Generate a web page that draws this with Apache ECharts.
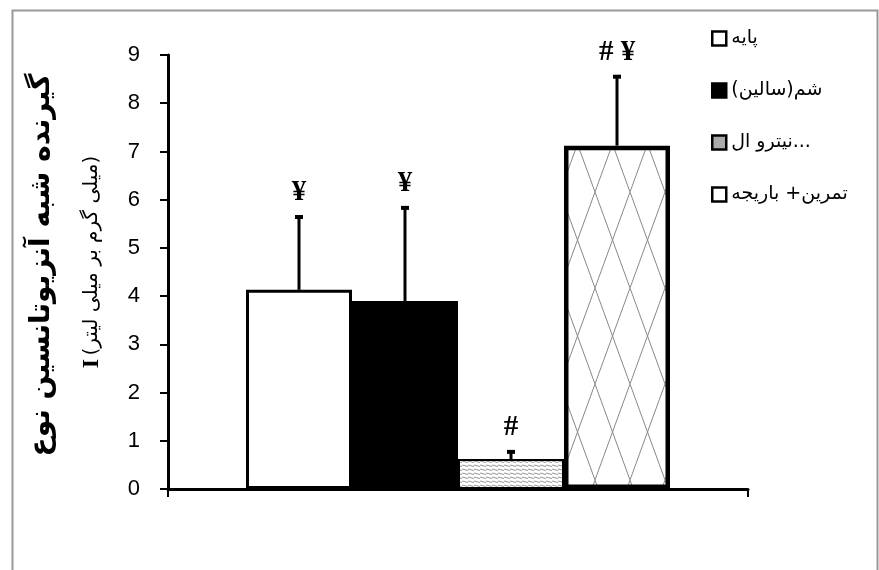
<!DOCTYPE html>
<html>
<head>
<meta charset="utf-8">
<script src="https://cdn.jsdelivr.net/npm/echarts@6/dist/echarts.min.js"></script>
<style>
  html, body { margin: 0; padding: 0; background: #fff; }
  #main { width: 879px; height: 570px; }
</style>
</head>
<body>
<div id="main"></div>
<script>
// داده ها
var groups = ['پایه', 'شم(سالین)', 'نیترو ال...', 'تمرین+ باریجه'];
var means = [4.13, 3.9, 0.62, 7.12];
var errTops = [5.64, 5.83, 0.77, 8.55];
var marks = ['¥', '¥', '#', '# ¥'];
var yTicks = [0, 9, 1];

// الگوی خط های افقی برای ستون سوم
function stripePattern() {
    var c = document.createElement('canvas');
    c.width = 6; c.height = 4;
    var ctx = c.getContext('2d');
    ctx.fillStyle = '#fff';
    ctx.fillRect(0, 0, 6, 4);
    ctx.strokeStyle = '#999';
    ctx.lineWidth = 1.2;
    ctx.beginPath();
    ctx.moveTo(0, 1); ctx.lineTo(6, 2.5);
    ctx.stroke();
    return c;
}
// الگوی لوزی برای ستون چهارم
function diamondPattern() {
    var w = 35, h = 96;
    var c = document.createElement('canvas');
    c.width = w; c.height = h;
    var ctx = c.getContext('2d');
    ctx.fillStyle = '#fff';
    ctx.fillRect(0, 0, w, h);
    ctx.strokeStyle = '#888';
    ctx.lineWidth = 1;
    ctx.beginPath();
    ctx.moveTo(0, 0); ctx.lineTo(w, h);
    ctx.moveTo(w, 0); ctx.lineTo(0, h);
    ctx.stroke();
    return c;
}

var barW = 106;
var fills = [
    '#fff',
    '#000',
    { image: stripePattern(), repeat: 'repeat' },
    { image: diamondPattern(), repeat: 'repeat' }
];
var borders = [3, 2, 2, 4.5];
var legendFills = ['#fff', '#000', '#aaa', '#fff'];

var myChart = echarts.init(document.getElementById('main'));

var series = [];
for (var i = 0; i < groups.length; i++) {
    series.push({
        name: groups[i],
        type: 'bar',
        barWidth: barW,
        barGap: '0%',
        itemStyle: { color: fills[i], borderColor: '#000', borderWidth: borders[i] },
        data: [means[i]],
        z: 2
    });
}

var errData = [];
for (var j = 0; j < means.length; j++) {
    errData.push([0, means[j], errTops[j]]);
}
series.push({
    type: 'custom',
    z: 5,
    encode: { x: 0, y: 2 },
    data: errData,
    renderItem: function (params, api) {
        var k = params.dataIndex;
        var off = (k - 1.5) * barW;
        var top = api.coord([0, api.value(2)]);
        var bot = api.coord([0, api.value(1)]);
        var x = top[0] + off;
        return {
            type: 'group',
            children: [
                { type: 'line', shape: { x1: x, y1: bot[1], x2: x, y2: top[1] },
                  style: { stroke: '#000', lineWidth: 3 } },
                { type: 'line', shape: { x1: x - 4, y1: top[1], x2: x + 4, y2: top[1] },
                  style: { stroke: '#000', lineWidth: 4 } },
                { type: 'text', x: x, y: top[1] - 10,
                  style: { text: marks[k], fontFamily: 'Liberation Serif', fontWeight: 'bold',
                           fontSize: 29, fill: '#000', align: 'center', verticalAlign: 'bottom' } }
            ]
        };
    }
});

option = {
    backgroundColor: '#fff',
    animation: false,
    legend: {
        orient: 'vertical',
        left: 706,
        top: 24,
        itemWidth: 14,
        itemHeight: 14,
        itemGap: 33,
        itemTextGap: 6,
        icon: 'rect',
        textStyle: { fontFamily: 'DejaVu Sans', fontSize: 19, color: '#000' },
        data: groups.map(function (g, i) {
            return { name: g, itemStyle: { color: legendFills[i], borderColor: '#000', borderWidth: 2.5 } };
        })
    },
    grid: { left: 168, right: 131, top: 55, bottom: 81 },
    xAxis: {
        type: 'category',
        data: [''],
        axisLine: { lineStyle: { color: '#000', width: 3 } },
        axisTick: { show: true, length: 8, lineStyle: { color: '#000', width: 2 } },
        axisLabel: { show: false }
    },
    yAxis: {
        type: 'value',
        min: yTicks[0],
        max: yTicks[1],
        interval: yTicks[2],
        splitLine: { show: false },
        axisLine: { show: true, lineStyle: { color: '#000', width: 3 } },
        axisTick: { show: true, length: 8, lineStyle: { color: '#000', width: 2 } },
        axisLabel: { margin: 28, fontFamily: 'Liberation Sans', fontSize: 22, color: '#000' }
    },
    graphic: [
        { type: 'rect', left: 10, top: 8, z: -1,
          shape: { width: 865, height: 580 },
          style: { fill: 'none', stroke: '#999', lineWidth: 2 } },
        { type: 'text', x: 42, y: 265, rotation: Math.PI / 2,
          style: { text: 'گیرنده شبه آنزیوتانسین نوع', fontFamily: 'DejaVu Sans', fontWeight: 'bold',
                   fontSize: 28, fill: '#000', align: 'center', verticalAlign: 'middle' } },
        { type: 'text', x: 92, y: 262, rotation: Math.PI / 2,
          style: { text: '{b|I} {u|(میلی گرم بر میلی لیتر)}', align: 'center', verticalAlign: 'middle',
                   rich: {
                       b: { fontFamily: 'Liberation Serif', fontWeight: 'bold', fontSize: 24, fill: '#000' },
                       u: { fontFamily: 'DejaVu Sans', fontSize: 20, fill: '#000' }
                   } } }
    ],
    series: series
};

myChart.setOption(option);
</script>
</body>
</html>
